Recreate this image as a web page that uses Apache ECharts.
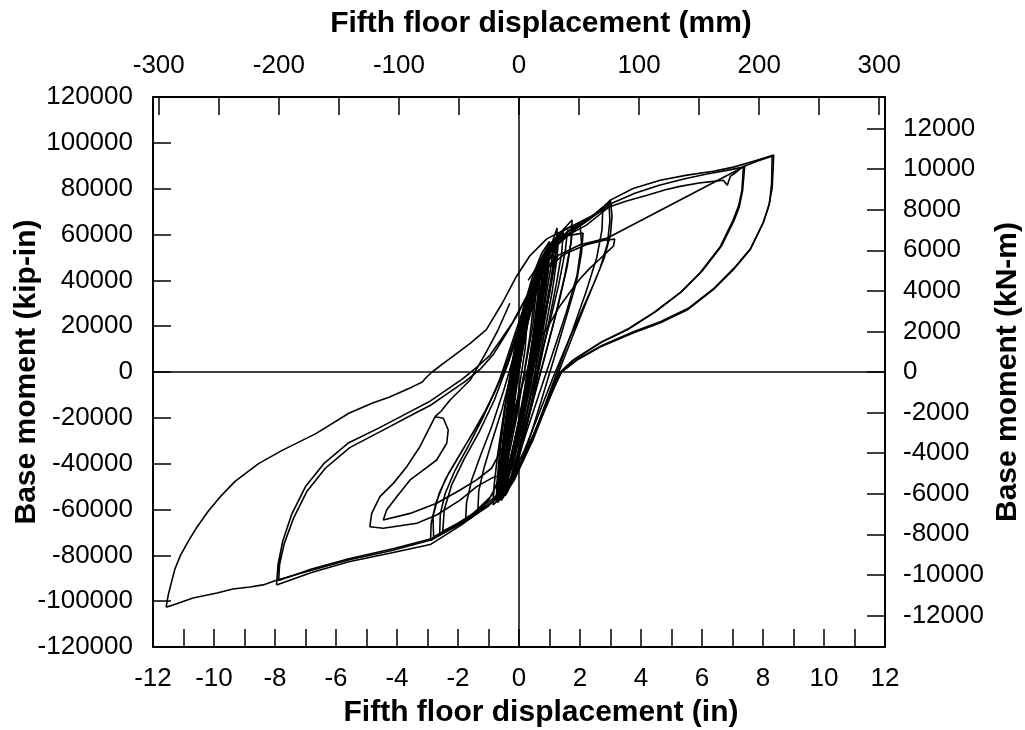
<!DOCTYPE html>
<html>
<head>
<meta charset="utf-8">
<script src="https://cdn.jsdelivr.net/npm/echarts@6/dist/echarts.min.js"></script>
<style>
  html, body { margin: 0; padding: 0; background: #fff; }
  #chart { width: 1025px; height: 730px; }
</style>
</head>
<body>
<div id="chart"></div>
<script>
// displacement in inches, base moment in kip-in
const inchTicks = [-12, -11, -10, -9, -8, -7, -6, -5, -4, -3, -2, -1, 0, 1, 2, 3, 4, 5, 6, 7, 8, 9, 10, 11, 12];
const inchLabels = [-12, -10, -8, -6, -4, -2, 0, 2, 4, 6, 8, 10, 12];
const mmTicks = [-300, -250, -200, -150, -100, -50, 0, 50, 100, 150, 200, 250, 300];
const mmLabels = [-300, -200, -100, 0, 100, 200, 300];
const kNmTicks = [-12000, -10000, -8000, -6000, -4000, -2000, 0, 2000, 4000, 6000, 8000, 10000, 12000];

// small cycles around the origin
const coreCycles = [
  [0, 0], [0.12, 12000], [0.3, 26000], [0.48, 38000], [0.55, 42000],
  [0.5, 32000], [0.35, 15000], [0.15, -2000], [-0.08, -20000], [-0.28, -33000], [-0.35, -37000],
  [-0.3, -26000], [-0.18, -10000], [0.02, 8000], [0.25, 26000], [0.5, 40000], [0.72, 49000], [0.8, 51000],
  [0.74, 40000], [0.55, 22000], [0.3, 2000], [0.05, -18000], [-0.2, -34000], [-0.42, -45000], [-0.52, -49000],
  [-0.5, -38000], [-0.38, -20000], [-0.15, 0], [0.12, 20000], [0.45, 38000], [0.8, 50000], [1.05, 56000], [1.15, 58000],
  [1.05, 46000], [0.82, 28000], [0.52, 8000], [0.2, -14000], [-0.12, -32000], [-0.4, -46000], [-0.6, -54000],
  [-0.58, -44000], [-0.45, -26000], [-0.25, -6000], [0.02, 14000], [0.35, 34000], [0.7, 48000], [0.95, 55000],
  [0.9, 44000], [0.72, 28000], [0.45, 8000], [0.15, -12000], [-0.12, -30000], [-0.38, -44000], [-0.55, -52000],
  [-0.52, -40000], [-0.38, -22000], [-0.15, -2000], [0.15, 20000], [0.5, 40000], [0.95, 54000], [1.4, 61000], [1.6, 63000],
  [1.52, 53000], [1.3, 38000], [0.98, 20000], [0.62, 2000], [0.28, -16000], [-0.08, -34000], [-0.4, -48000], [-0.66, -56000],
  [-0.64, -46000], [-0.5, -28000], [-0.3, -8000], [-0.05, 12000], [0.28, 32000], [0.62, 47000], [0.95, 55000], [1.25, 59000],
  [1.2, 49000], [1.0, 34000], [0.7, 15000], [0.38, -4000], [0.05, -24000], [-0.28, -41000], [-0.5, -51000],
  [-0.47, -39000], [-0.32, -20000], [-0.08, 2000], [0.22, 24000], [0.55, 42000], [0.85, 52000],
  [0.82, 42000], [0.6, 24000], [0.35, 4000], [0.05, -17000], [-0.25, -37000], [-0.45, -48000],
  [-0.42, -36000], [-0.28, -18000], [-0.02, 4000], [0.3, 27000], [0.7, 46000], [1.1, 57000], [1.5, 62000], [1.75, 64000],
  [1.7, 56000], [1.5, 42000], [1.15, 22000], [0.75, 2000], [0.35, -18000], [0.0, -36000], [-0.3, -48000], [-0.6, -56000]
];

// cycles out to about +/-3 in
const cyclesPm3 = [
  [-0.6, -56000], [-0.58, -44000], [-0.42, -24000], [-0.15, 0], [0.2, 24000], [0.6, 43000], [1.1, 55000], [1.6, 61000],
  [2.1, 65500], [2.5, 69000], [2.8, 72500], [3.0, 75000],
  [3.05, 68000], [3.0, 60000], [2.8, 50000], [2.5, 40000], [2.1, 28000], [1.6, 13000], [1.1, -3000], [0.6, -20000],
  [0.15, -35000], [-0.3, -47000], [-0.9, -57000], [-1.6, -64000], [-2.3, -69000], [-2.9, -73500],
  [-2.88, -66000], [-2.72, -57000], [-2.42, -47000], [-1.98, -37000], [-1.45, -25000], [-0.98, -14000], [-0.5, 0],
  [-0.05, 16000], [0.4, 33000], [0.85, 47000], [1.3, 56000], [1.8, 62000], [2.3, 67000], [2.7, 71000], [2.95, 74000],
  [2.98, 66000], [2.9, 56000], [2.65, 45000], [2.25, 32000], [1.8, 17000], [1.3, 0], [0.8, -17000], [0.3, -33000],
  [-0.2, -46000], [-0.8, -56000], [-1.5, -62500], [-2.2, -67500], [-2.8, -72000],
  [-2.82, -63000], [-2.62, -53000], [-2.3, -44000], [-1.85, -34000], [-1.3, -22000], [-0.8, -9000], [-0.35, 6000],
  [0.1, 24000], [0.5, 40000], [0.9, 51000], [1.3, 58000], [1.7, 62500], [2.0, 65000],
  [2.05, 56000], [1.9, 42000], [1.55, 26000], [1.1, 8000], [0.6, -12000], [0.15, -30000], [-0.3, -44000],
  [-0.75, -54000], [-1.3, -60000], [-2.0, -66000], [-2.5, -69500],
  [-2.45, -60000], [-2.2, -49000], [-1.8, -38000], [-1.3, -26000], [-0.8, -12000], [-0.35, 4000], [0.1, 22000],
  [0.55, 40000], [1.0, 52000], [1.5, 59000], [2.2, 64000], [2.95, 72000]
];

// more small cycles with spikes near the top of the core
const coreCycles2 = [
  [-0.55, -36000], [-0.42, -20000], [-0.2, 0], [0.1, 20000], [0.45, 38000], [0.85, 51000], [1.1, 57000], [1.25, 62800],
  [1.22, 54000], [1.05, 40000], [0.78, 22000], [0.45, 2000], [0.12, -18000], [-0.2, -36000], [-0.45, -48000], [-0.62, -55000],
  [-0.6, -45000], [-0.46, -27000], [-0.22, -5000], [0.08, 16000], [0.45, 36000], [0.9, 51000], [1.3, 60000], [1.74, 66300],
  [1.72, 58000], [1.58, 46000], [1.3, 30000], [0.95, 12000], [0.55, -8000], [0.15, -28000], [-0.2, -44000], [-0.5, -54000],
  [-0.48, -42000], [-0.34, -24000], [-0.1, -2000], [0.22, 20000], [0.6, 40000], [1.05, 53000], [1.6, 59500], [2.1, 60600],
  [2.05, 52000], [1.88, 39000], [1.55, 24000], [1.15, 6000], [0.72, -13000], [0.3, -31000], [-0.1, -45000], [-0.45, -54000],
  [-0.42, -42000], [-0.28, -24000], [-0.05, -2000], [0.3, 22000], [0.75, 43000], [1.3, 56000], [1.9, 63000], [2.4, 68000], [2.75, 72000],
  [2.72, 62000], [2.55, 50000], [2.2, 35000], [1.75, 18000], [1.25, 0], [0.75, -18000], [0.3, -34000], [-0.15, -47000], [-0.58, -56000],
  [-0.55, -44000], [-0.4, -26000], [-0.15, -4000], [0.15, 18000], [0.5, 38000], [0.9, 50000],
  [0.85, 40000], [0.62, 22000], [0.35, 2000], [0.05, -18000], [-0.22, -34000], [-0.4, -44000],
  [-0.36, -32000], [-0.2, -14000], [0.05, 8000], [0.35, 28000], [0.7, 44000], [1.0, 52000]
];

// dense middle band of the core
const coreCycles3 = [
  [-0.5, -50000], [-0.47, -38000], [-0.38, -22000], [-0.22, -6000], [0.0, 12000], [0.25, 28000], [0.5, 40000], [0.7, 47000],
  [0.66, 36000], [0.52, 20000], [0.32, 2000], [0.1, -16000], [-0.12, -30000], [-0.32, -42000], [-0.45, -47000],
  [-0.44, -36000], [-0.36, -20000], [-0.2, -2000], [0.02, 16000], [0.3, 32000], [0.55, 42000], [0.78, 49000],
  [0.74, 38000], [0.6, 22000], [0.4, 5000], [0.18, -12000], [-0.08, -28000], [-0.3, -40000], [-0.5, -50000], [-0.62, -55000],
  [-0.6, -45000], [-0.52, -30000], [-0.36, -12000], [-0.15, 6000], [0.12, 24000], [0.4, 38000], [0.65, 46000], [0.88, 52000],
  [0.84, 42000], [0.7, 28000], [0.5, 12000], [0.26, -6000], [0.0, -22000], [-0.25, -36000], [-0.45, -46000], [-0.58, -52000],
  [-0.56, -42000], [-0.46, -26000], [-0.3, -8000], [-0.08, 10000], [0.2, 27000], [0.48, 40000], [0.75, 48000], [0.92, 53000],
  [0.88, 44000], [0.76, 32000], [0.56, 16000], [0.34, 0], [0.1, -16000], [-0.15, -32000], [-0.38, -44000], [-0.54, -51000],
  [-0.52, -40000], [-0.42, -23000], [-0.26, -5000], [-0.04, 13000], [0.24, 30000], [0.52, 42000], [0.8, 50000],
  [0.76, 40000], [0.62, 24000], [0.42, 6000], [0.2, -10000], [-0.05, -26000], [-0.28, -39000], [-0.48, -49000], [-0.7, -56000],
  [-0.68, -47000], [-0.6, -32000], [-0.45, -15000], [-0.25, 2000], [0.0, 18000], [0.3, 34000], [0.6, 45000], [0.95, 54000],
  [0.9, 43000], [0.75, 28000], [0.52, 10000], [0.28, -8000], [0.02, -24000], [-0.22, -37000], [-0.42, -47000], [-0.56, -53000],
  [-0.53, -41000], [-0.43, -25000], [-0.28, -8000], [-0.05, 10000], [0.2, 25000], [0.45, 37000], [0.65, 44000],
  [0.62, 34000], [0.48, 18000], [0.28, 0], [0.06, -18000], [-0.18, -34000], [-0.38, -44000], [-0.6, -53000]
];

// wider core cycles on the right-hand side of the band
const coreCycles4 = [
  [-0.75, -57000], [-0.72, -48000], [-0.6, -30000], [-0.4, -10000], [-0.15, 10000], [0.15, 28000], [0.45, 42000], [0.75, 52000], [1.0, 57000],
  [0.95, 46000], [0.85, 32000], [0.7, 16000], [0.52, 0], [0.3, -16000], [0.05, -32000], [-0.2, -44000], [-0.45, -52000], [-0.7, -57000],
  [-0.66, -47000], [-0.5, -28000], [-0.28, -8000], [0.0, 12000], [0.3, 30000], [0.62, 45000], [0.95, 54000], [1.3, 60000],
  [1.25, 50000], [1.1, 36000], [0.88, 20000], [0.62, 2000], [0.36, -16000], [0.1, -32000], [-0.15, -44000], [-0.4, -53000],
  [-0.38, -42000], [-0.25, -24000], [-0.05, -4000], [0.2, 16000], [0.5, 34000], [0.82, 47000], [1.15, 55000],
  [1.1, 45000], [0.95, 31000], [0.75, 15000], [0.5, -2000], [0.25, -18000], [0.0, -33000], [-0.25, -45000], [-0.55, -54000],
  [-0.52, -44000], [-0.4, -28000], [-0.2, -8000], [0.05, 12000], [0.35, 30000], [0.7, 45000], [1.05, 54000], [1.45, 61000],
  [1.4, 52000], [1.22, 38000], [0.98, 22000], [0.7, 4000], [0.42, -14000], [0.15, -30000], [-0.12, -43000], [-0.4, -52000], [-0.85, -58000],
  [-0.82, -50000], [-0.7, -36000], [-0.5, -18000], [-0.25, 2000], [0.05, 20000], [0.38, 36000], [0.7, 47000], [1.0, 54000],
  [0.96, 44000], [0.82, 30000], [0.6, 12000], [0.38, -6000], [0.12, -22000], [-0.15, -37000], [-0.4, -48000], [-0.62, -55000],
  [-0.6, -46000], [-0.48, -30000], [-0.28, -10000], [-0.02, 10000], [0.28, 28000], [0.6, 42000], [0.9, 51000],
  [0.86, 40000], [0.72, 26000], [0.52, 10000], [0.3, -8000], [0.06, -24000], [-0.2, -38000], [-0.45, -50000]
];

// fan of reversals between -1 and -3 in
const fanCycles = [
  [-0.6, -53000], [-1.0, -58000], [-1.5, -62500], [-1.75, -65000],
  [-1.72, -57000], [-1.55, -47000], [-1.25, -36000], [-0.9, -24000], [-0.5, -8000], [-0.1, 10000], [0.3, 28000],
  [0.2, 10000], [-0.05, -12000], [-0.3, -30000], [-0.6, -46000], [-1.0, -56000], [-1.35, -61000],
  [-1.32, -52000], [-1.15, -42000], [-0.88, -30000], [-0.55, -16000], [-0.2, 2000], [0.2, 22000], [0.6, 40000],
  [0.45, 20000], [0.15, -2000], [-0.15, -22000], [-0.45, -40000], [-0.9, -54000], [-1.6, -63000], [-2.25, -68000], [-2.6, -70500],
  [-2.58, -62000], [-2.42, -53000], [-2.1, -43000], [-1.65, -32000], [-1.15, -19000], [-0.65, -4000], [-0.2, 14000], [0.25, 32000]
];

// out to +7.4 in, then back to -11.6 in
const toPos7 = [
  [2.95, 72000], [3.5, 74500], [4.2, 77100], [4.8, 79500], [5.28, 81000], [5.9, 82500], [6.37, 83200], [6.7, 83700],
  [6.83, 81500], [6.93, 85400], [7.15, 87500], [7.36, 89800],
  [7.34, 86000], [7.31, 79400], [7.2, 72500], [7.02, 66300], [6.59, 54500], [5.93, 43200], [5.28, 34500], [4.4, 25700],
  [3.54, 18300], [2.66, 12700], [1.77, 5200], [1.33, -400],
  [1.1, -7900], [0.8, -17500], [0.45, -28000], [0.05, -40000], [-0.45, -51000], [-1.0, -58500], [-1.86, -66000],
  [-2.95, -73500], [-4.2, -78000], [-5.6, -82000], [-6.8, -86500], [-7.93, -90800], [-8.39, -92900], [-8.82, -93800],
  [-9.38, -94700], [-9.9, -96400], [-10.69, -98600], [-11.34, -101700], [-11.57, -102600]
];

// back from -11.6 in, out to +8.3 in, then to -8 in
const toPos8 = [
  [-11.57, -102600], [-11.5, -97300], [-11.4, -92000], [-11.28, -85900], [-11.1, -80000], [-10.85, -74000],
  [-10.55, -67500], [-10.19, -60800], [-9.8, -54500], [-9.3, -47600], [-8.54, -40000], [-7.78, -34300],
  [-6.66, -26900], [-5.58, -18000], [-4.8, -13500], [-4.26, -11000], [-3.5, -6500], [-3.17, -4400], [-3.05, -2500],
  [-2.85, 0], [-2.5, 3500], [-2.19, 6600], [-1.6, 12500], [-1.07, 18500], [-0.55, 30000], [-0.08, 41800],
  [0.35, 50600], [0.91, 58100], [1.56, 62500], [2.42, 68300], [2.88, 71300], [2.98, 74900],
  [3.74, 80100], [4.63, 83700], [5.51, 85900], [6.37, 87600], [7.03, 89400], [7.69, 92000], [8.35, 94700],
  [8.33, 88000], [8.3, 80300], [8.18, 72000], [8.0, 65000], [7.57, 53200], [7.02, 44500], [6.36, 35800],
  [5.51, 27000], [4.62, 21400], [3.74, 17000], [2.66, 10900], [1.9, 5200], [1.34, -400],
  [1.1, -7000], [0.9, -14000], [0.6, -24000], [0.25, -35000], [-0.2, -47500], [-0.97, -57700], [-1.86, -66500],
  [-2.91, -75300], [-4.2, -79000], [-5.58, -82800], [-6.8, -87500], [-7.95, -92900]
];

// back from -8 in, second +7.4 in peak, second -8 in reversal, end near +3 in
const fromNeg8 = [
  [-7.95, -92900], [-7.9, -84000], [-7.75, -74000], [-7.45, -62000], [-7.0, -50000], [-6.4, -40000], [-5.6, -31000],
  [-4.6, -24500], [-3.6, -17500], [-2.95, -13000], [-2.4, -8000], [-1.85, -3000], [-1.35, 2500], [-0.97, 7000],
  [-0.6, 14000], [-0.21, 21600], [0.25, 33000], [0.7, 43000], [1.3, 51000], [2.0, 55500], [2.9, 58500],
  [7.4, 89800],
  [7.37, 85000], [7.33, 79000], [7.22, 72000], [7.05, 66000], [6.64, 55000], [6.0, 44000], [5.35, 35300], [4.48, 26400],
  [3.6, 19000], [2.72, 13200], [1.85, 5800], [1.4, 500], [1.15, -7000],
  [0.85, -16500], [0.5, -27500], [0.1, -39000], [-0.4, -50000], [-1.0, -58000], [-1.9, -65500], [-2.88, -72800],
  [-4.1, -77000], [-5.58, -81500], [-6.8, -86000], [-7.88, -91000],
  [-7.85, -84000], [-7.7, -75000], [-7.4, -64000], [-6.95, -52000], [-6.35, -42000], [-5.55, -33000], [-4.55, -26000],
  [-3.55, -19000], [-2.9, -14500], [-2.3, -9000], [-1.75, -4000], [-1.25, 1500], [-0.85, 7500], [-0.45, 16000],
  [-0.05, 25000], [0.4, 36000], [0.9, 45000], [1.5, 51500], [2.2, 55500], [2.8, 57500], [3.14, 58000],
  [3.1, 55000], [2.9, 52500], [2.65, 49300], [2.3, 45000], [1.99, 40500], [1.65, 34500], [1.33, 28600], [1.0, 21000],
  [0.67, 14000], [0.3, 2000], [-0.05, -12000], [-0.3, -24000], [-0.55, -36000]
];

// second pass along the upper bundle to +8.3 in
const topExtra = [
  [0.3, 40000], [0.9, 52000], [1.6, 60000], [2.3, 66500], [2.8, 71500], [3.1, 74000], [3.8, 78000], [4.6, 81500],
  [5.4, 84200], [6.2, 86500], [6.9, 88200], [7.3, 89300], [7.8, 92000], [8.3, 94200],
  [8.28, 82000], [8.22, 74000], [8.02, 65500], [7.6, 54000], [7.05, 45300], [6.4, 36600], [5.55, 27800], [4.65, 22000],
  [3.75, 17600], [2.7, 11500], [1.95, 5800], [1.4, 0], [1.1, -8000], [0.8, -18000], [0.45, -30000], [0.0, -42000], [-0.5, -52000]
];

// narrow loop near -4.9 in
const innerLoop = [
  [-0.3, 30000], [-0.7, 18000], [-1.1, 8000], [-1.6, -3500], [-2.26, -12200], [-2.55, -17000], [-2.75, -19500],
  [-2.48, -20200], [-2.32, -25300], [-2.37, -31100], [-2.7, -38400], [-3.14, -42800], [-3.57, -47100],
  [-4.01, -54400], [-4.34, -60200], [-4.45, -64600],
  [-3.57, -61700], [-2.7, -57300], [-1.93, -51500], [-1.39, -47100], [-0.9, -42000], [-0.5, -32000]
];
const innerLoop2 = [
  [-0.3, -44000], [-0.85, -46000], [-1.39, -50000], [-1.93, -55900], [-2.7, -62400], [-3.35, -66000],
  [-4.45, -68200], [-4.89, -67500], [-4.83, -61700], [-4.56, -54400], [-4.12, -48600], [-3.68, -41300],
  [-3.25, -32600], [-2.92, -23900], [-2.75, -19500]
];

const paths = [coreCycles, cyclesPm3, coreCycles2, coreCycles3, coreCycles4, fanCycles,
  toPos7, toPos8, fromNeg8, topExtra, innerLoop, innerLoop2];

const labelFont = { color: '#000', fontSize: 26, fontFamily: 'Liberation Sans, Arial, sans-serif' };
const titleFont = 'bold 30px "Liberation Sans", Arial, sans-serif';
const axisLineStyle = { color: '#000', width: 2 };
const tickStyle = { color: '#000', width: 1.5 };
const plain = (v) => String(v);

const chart = echarts.init(document.getElementById('chart'));

const series = paths.map((d) => ({
  type: 'line',
  data: d,
  xAxisIndex: 0,
  yAxisIndex: 0,
  symbol: 'none',
  showSymbol: false,
  clip: true,
  silent: true,
  lineStyle: { color: '#000', width: 1.6 },
}));
series[0].markLine = {
  silent: true,
  symbol: ['none', 'none'],
  label: { show: false },
  lineStyle: { color: '#000', width: 1.5, type: 'solid' },
  data: [{ xAxis: 0 }, { yAxis: 0 }],
};

const option = {
  animation: false,
  backgroundColor: '#fff',
  grid: { left: 153, right: 140, top: 97, bottom: 83, containLabel: false },
  xAxis: [
    {
      type: 'value',
      position: 'bottom',
      min: -12,
      max: 12,
      axisLine: { show: true, onZero: false, lineStyle: axisLineStyle },
      axisTick: { show: true, inside: true, length: 18, lineStyle: tickStyle, customValues: inchTicks },
      axisLabel: { ...labelFont, margin: 19, formatter: plain, customValues: inchLabels },
      splitLine: { show: false },
    },
    {
      type: 'value',
      position: 'top',
      min: -304.8,
      max: 304.8,
      axisLine: { show: true, onZero: false, lineStyle: axisLineStyle },
      axisTick: { show: true, inside: true, length: 18, lineStyle: tickStyle, customValues: mmTicks },
      axisLabel: { ...labelFont, margin: 18, formatter: plain, customValues: mmLabels },
      splitLine: { show: false },
    },
  ],
  yAxis: [
    {
      type: 'value',
      position: 'left',
      min: -120000,
      max: 120000,
      interval: 20000,
      axisLine: { show: true, onZero: false, lineStyle: axisLineStyle },
      axisTick: { show: true, inside: true, length: 18, lineStyle: tickStyle },
      axisLabel: { ...labelFont, margin: 20, formatter: plain },
      splitLine: { show: false },
    },
    {
      type: 'value',
      position: 'right',
      min: -13558.2,
      max: 13558.2,
      axisLine: { show: true, onZero: false, lineStyle: axisLineStyle },
      axisTick: { show: true, inside: true, length: 18, lineStyle: tickStyle, customValues: kNmTicks },
      axisLabel: { ...labelFont, margin: 18, formatter: plain, customValues: kNmTicks },
      splitLine: { show: false },
    },
  ],
  graphic: [
    { type: 'text', x: 541, y: 24, silent: true,
      style: { text: 'Fifth floor displacement (mm)', font: titleFont, fill: '#000', textAlign: 'center', textVerticalAlign: 'middle' } },
    { type: 'text', x: 541, y: 713, silent: true,
      style: { text: 'Fifth floor displacement (in)', font: titleFont, fill: '#000', textAlign: 'center', textVerticalAlign: 'middle' } },
    { type: 'text', x: 27, y: 372, rotation: Math.PI / 2, silent: true,
      style: { text: 'Base moment (kip-in)', font: titleFont, fill: '#000', textAlign: 'center', textVerticalAlign: 'middle' } },
    { type: 'text', x: 1008, y: 372, rotation: Math.PI / 2, silent: true,
      style: { text: 'Base moment (kN-m)', font: titleFont, fill: '#000', textAlign: 'center', textVerticalAlign: 'middle' } },
  ],
  series: series,
};
chart.setOption(option);
</script>
</body>
</html>
